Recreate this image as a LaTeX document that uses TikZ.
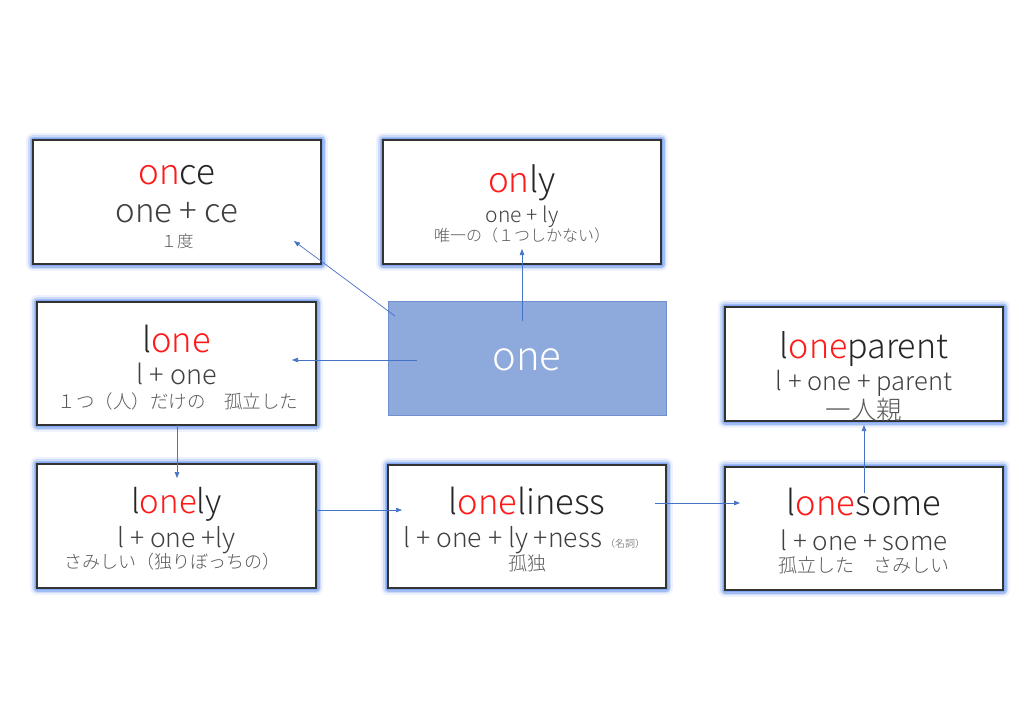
\documentclass[tikz,border=0pt]{standalone}
\usepackage{fontspec}
\setmainfont{Noto Sans CJK JP}[UprightFont={* Light}]
\usetikzlibrary{arrows.meta}
\definecolor{arr}{HTML}{4472C4}
\definecolor{glowc}{HTML}{6E9AF0}
\definecolor{boxfill}{HTML}{8EA9DB}
\definecolor{boxline}{HTML}{6F8FCF}
\definecolor{thead}{HTML}{262626}
\definecolor{tdark}{HTML}{404040}
\definecolor{tgrey}{HTML}{595959}
\definecolor{wred}{HTML}{FF1A1A}
\newcommand\tsize[1]{\fontsize{#1}{#1}\selectfont}
\newcommand\rd[1]{{\color{wred}#1}}
\tikzset{
  wbox/.style={draw=black!80, line width=1.2pt, fill=white, inner sep=0pt, outer sep=0pt,
    preaction={draw=glowc, line width=14pt, line join=round, opacity=0.12},
    preaction={draw=glowc, line width=10pt, line join=round, opacity=0.25},
    preaction={draw=glowc, line width=7pt, line join=round, opacity=0.45},
    preaction={draw=glowc, line width=4pt, line join=round, opacity=0.6}},
  bbox/.style={draw=boxline, line width=0.8pt, fill=boxfill, inner sep=0pt, outer sep=0pt},
  tx/.style={anchor=base, inner sep=0pt, outer sep=0pt},
  hd/.style={tx, text=thead},
  l2/.style={tx, text=tdark},
  l3/.style={tx, text=tgrey},
  conn/.style={draw=arr, line width=0.7pt, -{Triangle[length=6pt,width=4.5pt]}}
}
\begin{document}
\begin{tikzpicture}[x=1pt,y=-1pt]
\fill[white] (0,0) rectangle (1024,724);
\useasboundingbox (0,0) rectangle (1024,724);

% boxes
\node[wbox, minimum width=288pt, minimum height=124pt] (once) at (177,202) {};
\node[wbox, minimum width=278pt, minimum height=124pt] (only) at (522,202) {};
\node[wbox, minimum width=279pt, minimum height=123pt] (lone) at (176.5,363.5) {};
\node[bbox, minimum width=278pt, minimum height=114pt] (one) at (527,358) {};
\node[wbox, minimum width=278pt, minimum height=114pt] (parent) at (864,364) {};
\node[wbox, minimum width=279pt, minimum height=124pt] (lonely) at (176.5,526) {};
\node[wbox, minimum width=278pt, minimum height=123pt] (lines) at (527,526.5) {};
\node[wbox, minimum width=278pt, minimum height=123pt] (some) at (864,528.5) {};

% once
\node[hd, font=\tsize{35}] (onceA) at (177,184) {\rd{on}ce};
\node[l2, font=\tsize{33}] (onceB) at (177,222) {one + ce};
\node[l3, font=\tsize{16.5}] (onceC) at (177,247) {１度};
% only
\node[hd, font=\tsize{35}] (onlyA) at (522,192) {\rd{on}ly};
\node[l2, font=\tsize{21}] (onlyB) at (522,222) {one + ly};
\node[l3, font=\tsize{16}] (onlyC) at (522,241) {唯一の（１つしかない）};
% lone
\node[hd, font=\tsize{34.5}] (loneA) at (176.5,352) {l\rd{one}};
\node[l2, font=\tsize{27}] (loneB) at (176.5,384) {l + one};
\node[l3, font=\tsize{18.5}] (loneC) at (178,408) {１つ（人）だけの　孤立した};
% one
\node[tx, text=white, font=\tsize{40}] (oneA) at (527,370) {one};
% loneparent
\node[hd, font=\tsize{34}] (parentA) at (864,358) {l\rd{one}parent};
\node[l2, font=\tsize{25.5}] (parentB) at (864,390) {l + one + parent};
\node[l3, font=\tsize{25.5}] (parentC) at (864,419) {一人親};
% lonely
\node[hd, font=\tsize{33}] (lonelyA) at (176.5,513) {l\rd{one}ly};
\node[l2, font=\tsize{26.5}] (lonelyB) at (176.5,547) {l + one +ly};
\node[l3, font=\tsize{18}] (lonelyC) at (172,568) {さみしい（独りぼっちの）};
% loneliness
\node[hd, font=\tsize{34.5}] (linesA) at (527,514) {l\rd{one}liness};
\node[l2, font=\tsize{26.5}, anchor=base east] (linesB) at (602,547) {l + one + ly +ness};
\node[l3, font=\tsize{10}, anchor=base west] (linesB2) at (605,547) {（名詞）};
\node[l3, font=\tsize{19}] (linesC) at (527,570) {孤独};
% lonesome
\node[hd, font=\tsize{34.5}] (someA) at (864,515) {l\rd{one}some};
\node[l2, font=\tsize{26}] (someB) at (864,550) {l + one + some};
\node[l3, font=\tsize{19}] (someC) at (864,572) {孤立した　さみしい};

% connectors
\coordinate (a1s) at (395,316); \coordinate (a1e) at (294,241);
\coordinate (a2s) at (522,321); \coordinate (a2e) at (522,249);
\coordinate (a3s) at (417,360); \coordinate (a3e) at (292,360);
\coordinate (a4s) at (177,425); \coordinate (a4e) at (177,478);
\coordinate (a5s) at (316,510); \coordinate (a5e) at (402,510);
\coordinate (a6s) at (655,503); \coordinate (a6e) at (740,503);
\coordinate (a7s) at (864,493); \coordinate (a7e) at (864,425);
\draw[conn] (a1s) -- (a1e);
\draw[conn] (a2s) -- (a2e);
\draw[conn] (a3s) -- (a3e);
\draw[conn] (a4s) -- (a4e);
\draw[conn] (a5s) -- (a5e);
\draw[conn] (a6s) -- (a6e);
\draw[conn] (a7s) -- (a7e);
\end{tikzpicture}
\end{document}
